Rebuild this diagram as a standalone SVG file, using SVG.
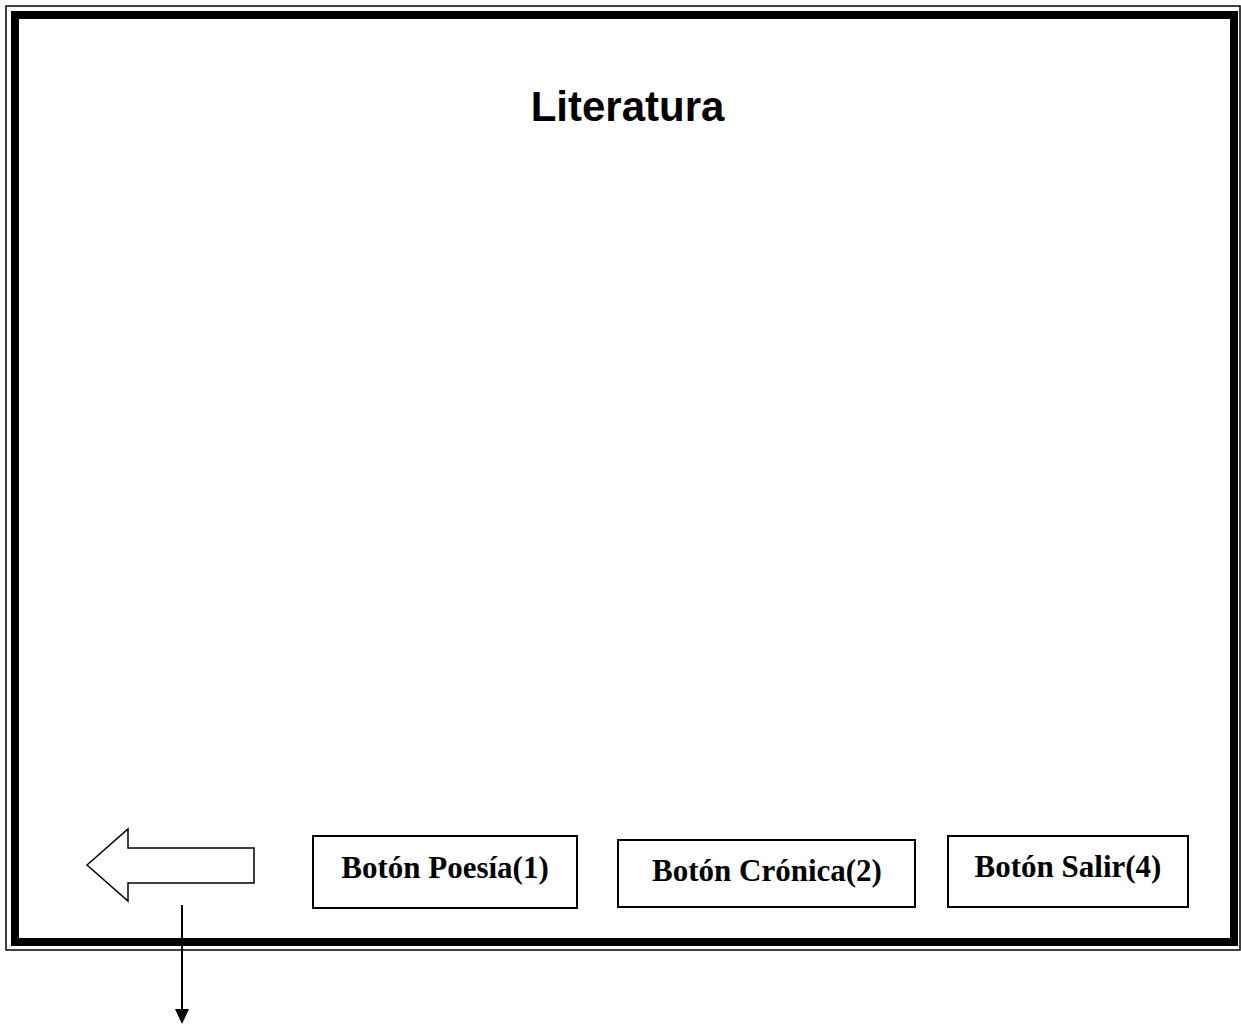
<svg xmlns="http://www.w3.org/2000/svg" width="1241" height="1025" viewBox="0 0 1241 1025">
  <defs>
    <style>
      .frame-thin { fill: none; stroke: #000; stroke-width: 1.5; }
      .frame-thick { fill: none; stroke: #000; stroke-width: 8; }
      .btn { fill: #fff; stroke: #000; stroke-width: 2; }
      .btn-label { font-family: "Liberation Serif", "Times New Roman", serif; font-weight: bold; font-size: 31px; fill: #000; text-anchor: middle; }
      .title { font-family: "Liberation Sans", Arial, sans-serif; font-weight: bold; font-size: 42px; fill: #000; text-anchor: middle; }
      .back { fill: #fff; stroke: #000; stroke-width: 1.5; stroke-linejoin: miter; }
      .link { stroke: #000; stroke-width: 2; fill: none; }
    </style>
    <marker id="arrowhead" markerWidth="15" markerHeight="14" refX="1" refY="7" orient="auto" markerUnits="userSpaceOnUse" viewBox="0 0 15 14">
      <path d="M0,0 L15,7 L0,14 Z" fill="#000"/>
    </marker>
  </defs>

  <rect width="1241" height="1025" fill="#fff"/>

  <!-- screen frame: thin outer line plus heavy inner border -->
  <g id="frame">
    <rect class="frame-thin" x="6" y="6" width="1234" height="944"/>
    <rect class="frame-thick" x="15" y="15" width="1219" height="927"/>
  </g>

  <g id="title">
    <text class="title" x="627.5" y="121">Literatura</text>
  </g>

  <!-- back navigation arrow -->
  <g id="back-arrow">
    <path class="back" d="M87,865 L128,829 L128,848 L254,848 L254,883 L128,883 L128,901 Z"/>
  </g>

  <g id="btn-poesia">
    <rect class="btn" x="313" y="836" width="264" height="72"/>
    <text class="btn-label" x="445" y="878">Botón Poesía(1)</text>
  </g>

  <g id="btn-cronica">
    <rect class="btn" x="618" y="840" width="297" height="67"/>
    <text class="btn-label" x="767" y="881">Botón Crónica(2)</text>
  </g>

  <g id="btn-salir">
    <rect class="btn" x="948" y="836" width="240" height="71"/>
    <text class="btn-label" x="1068" y="877">Botón Salir(4)</text>
  </g>

  <g id="connectors">
    <line class="link" x1="182" y1="905" x2="182" y2="1010" marker-end="url(#arrowhead)"/>
  </g>
</svg>
